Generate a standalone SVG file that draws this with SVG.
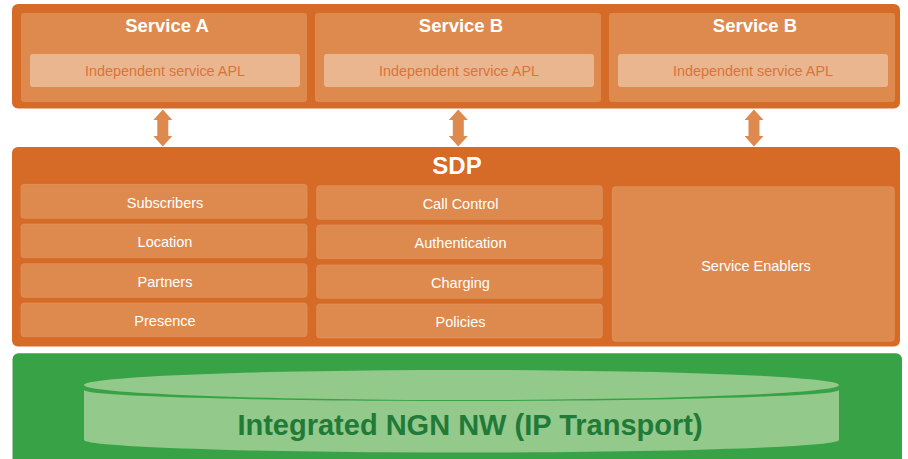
<svg xmlns="http://www.w3.org/2000/svg" xmlns:xlink="http://www.w3.org/1999/xlink" width="908" height="459" viewBox="0 0 908 459">
  <style>
    .frame { fill: #D66A27; }
    .panel { fill: #DE8A4E; }
    .apl { fill: #EAB690; }
    .cell { fill: #DE8A4E; stroke: #E39766; stroke-width: 0.6; }
    .svc-title { font-family: "Liberation Sans", Arial, sans-serif; font-weight: bold; font-size: 18.5px; fill: #FFFFFF; text-anchor: middle; }
    .apl-text { font-family: "Liberation Sans", Arial, sans-serif; font-size: 14.4px; fill: #DA7338; text-anchor: middle; }
    .cell-text { font-family: "Liberation Sans", Arial, sans-serif; font-size: 14.5px; fill: #FFFFFF; text-anchor: middle; }
    .sdp-title { font-family: "Liberation Sans", Arial, sans-serif; font-weight: bold; font-size: 24px; fill: #FFFFFF; text-anchor: middle; }
    .net-text { font-family: "Liberation Sans", Arial, sans-serif; font-weight: bold; font-size: 29px; fill: #217A38; text-anchor: middle; }
    .drum { fill: #93C98A; }
    .link { fill: #DE8A4E; }
  </style>
  <defs>
    <!-- double-headed block arrow, centred on x = 0 -->
    <path id="dbl-arrow" d="M0,109.5 L9.5,120 L5.5,120 L5.5,136 L9.5,136 L0,146.5 L-9.5,136 L-5.5,136 L-5.5,120 L-9.5,120 Z"/>
  </defs>

  <rect width="908" height="459" fill="#FFFFFF"/>

  <!-- application layer -->
  <g id="services">
    <rect class="frame" x="12" y="4" width="888" height="104.5" rx="6"/>
  </g>
  <g id="service-a">
    <rect class="panel" x="21" y="13" width="286" height="89" rx="3"/>
    <text class="svc-title" x="167" y="32">Service A</text>
    <rect class="apl" x="30" y="54" width="270" height="33" rx="3"/>
    <text class="apl-text" x="165" y="76">Independent service APL</text>
  </g>
  <g id="service-b1">
    <rect class="panel" x="315" y="13" width="286" height="89" rx="3"/>
    <text class="svc-title" x="461" y="32">Service B</text>
    <rect class="apl" x="324" y="54" width="270" height="33" rx="3"/>
    <text class="apl-text" x="459" y="76">Independent service APL</text>
  </g>
  <g id="service-b2">
    <rect class="panel" x="609" y="13" width="286" height="89" rx="3"/>
    <text class="svc-title" x="755" y="32">Service B</text>
    <rect class="apl" x="618" y="54" width="270" height="33" rx="3"/>
    <text class="apl-text" x="753" y="76">Independent service APL</text>
  </g>

  <!-- service delivery platform -->
  <g id="sdp">
    <rect class="frame" x="12" y="147" width="888" height="199.5" rx="6"/>
    <text class="sdp-title" x="457" y="174">SDP</text>
  </g>
  <g id="subscribers">
    <rect class="cell" x="21" y="184.3" width="286" height="34" rx="3"/>
    <text class="cell-text" x="165" y="207.5">Subscribers</text>
  </g>
  <g id="location">
    <rect class="cell" x="21" y="224" width="286" height="33.7" rx="3"/>
    <text class="cell-text" x="165" y="247">Location</text>
  </g>
  <g id="partners">
    <rect class="cell" x="21" y="263.7" width="286" height="33.6" rx="3"/>
    <text class="cell-text" x="165" y="286.7">Partners</text>
  </g>
  <g id="presence">
    <rect class="cell" x="21" y="303" width="286" height="33.7" rx="3"/>
    <text class="cell-text" x="165" y="326">Presence</text>
  </g>
  <g id="call-control">
    <rect class="cell" x="316.7" y="185.7" width="285.6" height="33.6" rx="3"/>
    <text class="cell-text" x="460.5" y="208.5">Call Control</text>
  </g>
  <g id="authentication">
    <rect class="cell" x="316.7" y="225" width="285.6" height="33.7" rx="3"/>
    <text class="cell-text" x="460.5" y="247.8">Authentication</text>
  </g>
  <g id="charging">
    <rect class="cell" x="316.7" y="265" width="285.6" height="33.3" rx="3"/>
    <text class="cell-text" x="460.5" y="287.6">Charging</text>
  </g>
  <g id="policies">
    <rect class="cell" x="316.7" y="304" width="285.6" height="34" rx="3"/>
    <text class="cell-text" x="460.5" y="327">Policies</text>
  </g>
  <g id="service-enablers">
    <rect class="cell" x="612.3" y="186.7" width="282" height="154.6" rx="3"/>
    <text class="cell-text" x="756" y="271">Service Enablers</text>
  </g>

  <!-- transport network: a flat drum, its lid set slightly apart from the body -->
  <g id="ngn-network">
    <rect x="12.5" y="353.3" width="889.5" height="120" rx="6" fill="#38A346"/>
    <path class="drum" d="M84,390 L84,440 A377.5,12.5 0 0 0 839,440 L839,390 A377.5,11 0 0 1 84,390 Z"/>
    <ellipse class="drum" cx="461.5" cy="385" rx="377.5" ry="15"/>
    <text class="net-text" x="470" y="435">Integrated NGN NW (IP Transport)</text>
  </g>

  <!-- links between the service layer and the SDP -->
  <g id="connectors" class="link">
    <use xlink:href="#dbl-arrow" x="162.8"/>
    <use xlink:href="#dbl-arrow" x="458.3"/>
    <use xlink:href="#dbl-arrow" x="754"/>
  </g>
</svg>
